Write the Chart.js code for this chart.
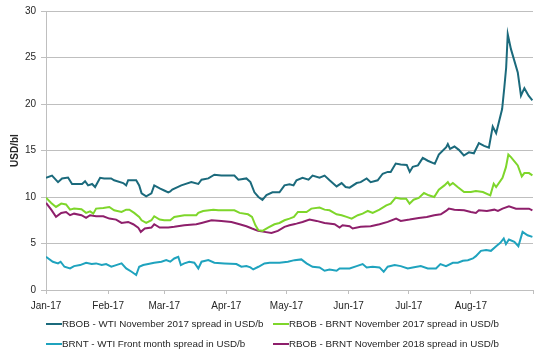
<!DOCTYPE html>
<html>
<head>
<meta charset="utf-8">
<script src="https://cdn.jsdelivr.net/npm/chart.js@4.4.1/dist/chart.umd.min.js"></script>
<style>
  html, body { margin: 0; padding: 0; background: #fff; }
  #wrap { position: relative; width: 542px; height: 354px; }
  #c { position: absolute; left: 0; top: 0; }
  .lg { position: absolute; font: 9.8px "Liberation Sans", Arial, sans-serif; color: #262626; line-height: 12px; white-space: nowrap; }
  .sw { position: absolute; height: 2px; width: 16px; }
</style>
</head>
<body>
<div id="wrap">
  <canvas id="c" width="542" height="354"></canvas>
  <div id="legend"></div>
</div>
<script>
// ---- Data (x = days since 1 Jan 2017) ----
const monthTickDays = [0, 31, 59, 90, 120, 151, 181, 212, 243];
const monthTickLabels = ['Jan-17', 'Feb-17', 'Mar-17', 'Apr-17', 'May-17', 'Jun-17', 'Jul-17', 'Aug-17', ''];

const seriesNames = [
  'RBOB - WTI November 2017 spread in USD/b',
  'RBOB - BRNT November 2017 spread in USD/b',
  'BRNT - WTI Front month spread in USD/b',
  'RBOB - BRNT November 2018 spread in USD/b'
];
const seriesColors = ['#1B6A7C', '#7ED62B', '#1FA3BE', '#8E1F6B'];

const rbobWtiDays = [0,3,6,8,11,13,18,19.5,21,23,24.5,27,29,32.5,34,38.5,40,41,45,46.5,47.7,50,52.6,54,57,59,61,62,63,67.5,72.5,76,77.6,81,84,87.5,94,96,100,102,104,106,108,110,113,116.5,119,121.5,123.5,125,128,131,133,136.5,139,141.5,145,147.5,149.5,151.5,155,157,160,162,165.5,168,170.5,172,174.5,177,180,181.5,183,185.6,188,190.5,194,196,199.7,200.5,201.6,203.8,206,208.5,211,213.5,216,218.6,221,222.9,224.6,227.6,228.7,229.6,230.4,232,235.4,237,238.7,240.8,242.7];
const rbobWtiVals = [12.07,12.3,11.6,12.0,12.1,11.4,11.4,11.7,11.25,11.4,11.07,12.07,12.0,12.0,11.8,11.5,11.25,11.8,11.8,11.25,10.4,10.07,10.4,11.25,10.9,10.7,10.5,10.6,10.8,11.25,11.6,11.4,11.86,12.0,12.4,12.3,12.3,11.86,12.0,11.6,10.5,10.0,9.7,10.2,10.5,10.5,11.25,11.36,11.25,11.8,12.07,11.86,12.3,12.07,12.3,11.8,11.14,11.5,11.07,11.0,11.5,11.6,12.0,11.6,11.8,12.5,12.7,12.7,13.6,13.5,13.45,12.7,13.25,13.4,14.2,13.9,13.57,14.57,15.36,15.7,15.18,15.43,15.07,14.46,14.8,14.7,15.8,15.5,15.3,17.57,16.86,19.46,21.8,23.9,27.5,25.9,23.4,20.9,21.7,20.9,20.4];

const rbobBrnt17Days = [0,2.6,5,7.6,10,12,14,17.7,20,22,23.6,25,28.6,31.6,34,37.7,40,41.6,44,46.5,47.7,50,52.6,54,56.7,59,62,64,69,72.5,75,76,78.4,83.5,86,94,96.6,100.8,102.8,104.5,106,108,110.8,114,116.5,119,121.5,123.7,125.7,130,132.4,136.5,139,141.5,145,147.5,150,152.5,155.6,158,160.6,163,166.4,169.8,172,174.5,177,179.7,181.4,183.4,186,188.6,191,193.7,196,198.8,200.5,201.5,203,205.4,208.6,212,214.5,218,221.7,223.4,224.6,227.8,229.5,230.7,232,235.4,237.4,238.7,241,242.7];
const rbobBrnt17Vals = [9.93,9.36,8.93,9.29,9.2,8.64,8.75,8.68,8.29,8.46,8.21,8.75,8.82,8.93,8.57,8.39,8.64,8.64,8.29,7.86,7.5,7.21,7.5,7.93,7.57,7.5,7.5,7.86,8.04,8.04,8.04,8.29,8.5,8.64,8.57,8.57,8.29,8.14,7.86,6.96,6.43,6.36,6.71,7.07,7.21,7.5,7.68,7.86,8.39,8.39,8.75,8.86,8.64,8.57,8.14,8.04,7.86,7.68,8.04,8.21,8.5,8.29,8.64,9.1,9.29,9.93,9.82,9.82,9.29,9.71,9.9,10.43,10.18,10.0,10.79,11.25,11.6,11.25,11.5,11.07,10.54,10.54,10.64,10.54,10.18,11.43,11.07,12.07,13.21,14.57,14.29,13.39,12.21,12.57,12.57,12.32];

const brntWtiDays = [0,3.4,6,7.3,9.2,12,14,17,20,22.8,25,27.8,30,32.6,35,37.7,40,42.7,45,46.5,48.5,51,54,57.6,60,62,64,66,67.3,69,71.5,74,76,77.6,81,84,89,95,97.5,100,102,103.4,106,109,111.6,116.5,120.7,124,127.4,130,133,136.5,139,141.5,145,146.5,151.5,155,158,160,163,166.4,168.5,170.5,174,177,180.5,183,187,190.5,194.6,196.8,199.6,203,205.5,208,210.5,213,214.5,217,219.6,222,224.6,226.7,228.4,229.5,231,233.7,235.7,237.8,240.3,242.7];
const brntWtiVals = [3.57,3.04,2.86,3.04,2.5,2.32,2.57,2.68,2.93,2.79,2.86,2.68,2.79,2.5,2.68,2.86,2.32,1.96,1.61,2.5,2.68,2.79,2.93,3.04,3.21,3.04,3.39,3.57,2.68,2.86,3.04,2.93,2.32,3.04,3.21,2.93,2.86,2.79,2.5,2.57,2.43,2.21,2.5,2.86,2.93,2.93,3.04,3.21,3.29,2.86,2.5,2.43,2.07,2.21,2.07,2.32,2.32,2.57,2.79,2.43,2.5,2.43,1.96,2.5,2.68,2.57,2.32,2.43,2.57,2.32,2.32,2.79,2.57,2.93,2.93,3.14,3.21,3.39,3.64,4.21,4.29,4.21,4.71,5.07,5.54,4.93,5.43,5.18,4.71,6.25,5.89,5.71];

const rbobBrnt18Days = [0,2.6,5,7.6,10,12,14,17.7,20,22,25,28.6,31.6,35,37.7,41,43.5,46,47.3,49.3,52.6,54,56.7,61,64,69,75,77.6,82.6,87.5,92.5,96.6,100,102.8,105.8,109,112.5,115.7,119,121.5,123.7,125,128,131.5,135,139,144,146.5,148,151.5,153,157,162,166.4,170.5,174.7,177,181.4,186,190,193.7,197,199.6,201,203.8,208.6,212,214.5,216,220,223.7,225.5,227.8,231,234.5,238.7,241,242.7];
const rbobBrnt18Vals = [9.36,8.64,7.86,8.29,8.39,8.04,8.21,8.04,7.75,8.04,7.93,7.93,7.68,7.57,7.21,7.32,7.07,6.71,6.25,6.61,6.71,7.07,6.71,6.71,6.79,6.96,7.07,7.21,7.5,7.43,7.32,7.07,6.86,6.61,6.36,6.25,6.14,6.36,6.79,6.96,7.07,7.14,7.32,7.57,7.43,7.21,7.07,6.71,6.96,6.86,6.61,6.79,6.86,7.07,7.32,7.68,7.43,7.57,7.75,7.86,8.04,8.14,8.5,8.75,8.64,8.57,8.39,8.29,8.57,8.5,8.64,8.5,8.75,9.0,8.75,8.75,8.75,8.57];

const yTickStep = 5, yMin = 0, yMax = 30;
const xMin = 0, xMax = 243;

// ---- Build chart ----
function pts(days, vals) { return days.map((d, i) => ({ x: d, y: vals[i] })); }
const seriesData = [
  pts(rbobWtiDays, rbobWtiVals),
  pts(rbobBrnt17Days, rbobBrnt17Vals),
  pts(brntWtiDays, brntWtiVals),
  pts(rbobBrnt18Days, rbobBrnt18Vals)
];
const drawOrder = [0, 1, 3, 2];
const FONT = '"Liberation Sans", Arial, sans-serif';
const TXT = '#262626';
const GRID = '#BFBFBF';

new Chart(document.getElementById('c'), {
  type: 'line',
  data: {
    datasets: drawOrder.map(i => ({
      label: seriesNames[i],
      data: seriesData[i],
      borderColor: seriesColors[i],
      backgroundColor: seriesColors[i],
      borderWidth: 2,
      pointRadius: 0,
      tension: 0,
      fill: false
    }))
  },
  options: {
    responsive: false,
    animation: false,
    layout: { padding: { left: 0, top: 10, right: 9, bottom: 0 } },
    plugins: { legend: { display: false }, tooltip: { enabled: false } },
    scales: {
      x: {
        type: 'linear', min: xMin, max: xMax,
        afterBuildTicks: s => { s.ticks = monthTickDays.map(v => ({ value: v })); },
        afterFit: s => { s.height = 64; },
        ticks: {
          autoSkip: false, maxRotation: 0, padding: 6,
          color: TXT, font: { family: FONT, size: 10 },
          callback: v => { const k = monthTickDays.indexOf(v); return k >= 0 ? monthTickLabels[k] : ''; }
        },
        grid: { drawOnChartArea: false, drawTicks: true, tickLength: 4, color: GRID },
        border: { color: GRID }
      },
      y: {
        min: yMin, max: yMax,
        afterFit: s => { s.width = 46; },
        ticks: { stepSize: yTickStep, padding: 5, color: TXT, font: { family: FONT, size: 10 } },
        grid: { color: GRID, tickLength: 5, drawTicks: true },
        border: { color: GRID },
        title: { display: true, text: 'USD/bl', color: TXT, font: { family: FONT, size: 10, weight: 'bold' }, padding: { top: 9, bottom: 0 } }
      }
    }
  }
});

// ---- Legend (HTML text) ----
const legendPos = [
  { i: 0, sx: 46, tx: 62, y: 318 },
  { i: 1, sx: 273, tx: 289, y: 318 },
  { i: 2, sx: 46, tx: 62, y: 338 },
  { i: 3, sx: 273, tx: 289, y: 338 }
];
const lg = document.getElementById('legend');
legendPos.forEach(p => {
  const sw = document.createElement('div');
  sw.className = 'sw';
  sw.style.left = p.sx + 'px';
  sw.style.top = (p.y + 5) + 'px';
  sw.style.background = seriesColors[p.i];
  lg.appendChild(sw);
  const t = document.createElement('div');
  t.className = 'lg';
  t.style.left = p.tx + 'px';
  t.style.top = p.y + 'px';
  t.textContent = seriesNames[p.i];
  lg.appendChild(t);
});
</script>
</body>
</html>
